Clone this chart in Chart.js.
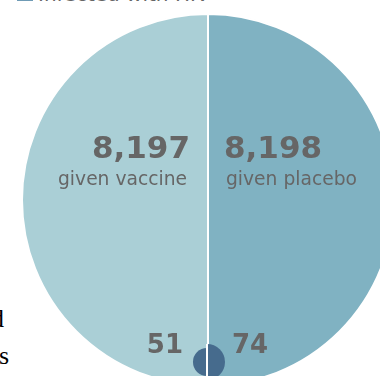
<!DOCTYPE html>
<html><head><meta charset="utf-8">
<script src="https://cdn.jsdelivr.net/npm/chart.js@4/dist/chart.umd.min.js"></script>
<style>
html,body{margin:0;padding:0;width:380px;height:376px;overflow:hidden;background:#fff;}
body{position:relative;}
#bigWrap{position:absolute;left:21px;top:13px;width:374px;height:374px;}
#smallWrap{position:absolute;left:189px;top:344px;width:36px;height:36px;}
#legend{position:absolute;left:17px;top:-16px;font:20px "DejaVu Sans",sans-serif;color:#666;white-space:nowrap;line-height:20px;}
#legend span.sw{display:inline-block;width:16px;height:16px;background:#6f9bb5;vertical-align:0px;margin-right:5px;}
.side{position:absolute;font:26px "Liberation Serif",serif;color:#000;}
</style></head>
<body>
<div id="legend"><span class="sw"></span><span id="legendText"></span></div>
<div class="side" style="left:-9px;top:304px;">d</div>
<div class="side" style="left:-1px;top:341px;">s</div>
<div id="bigWrap"><canvas id="big" width="374" height="374"></canvas></div>
<div id="smallWrap"><canvas id="small" width="36" height="36"></canvas></div>
<script>
// Data
const groups = ['given placebo', 'given vaccine'];   // right half, left half
const totals = [8198, 8197];
const infected = [74, 51];
const legendLabel = 'Infected with HIV';

document.getElementById('legendText').textContent = legendLabel;

const fmt = n => n.toLocaleString('en-US');

const labelPlugin = {
  id: 'labels',
  afterDatasetsDraw(chart) {
    const meta = chart.getDatasetMeta(0);
    const arc = meta.data[0];
    const cx = arc.x, cy = arc.y;
    const ctx = chart.ctx;
    ctx.save();
    ctx.fillStyle = '#666666';
    ctx.textBaseline = 'alphabetic';
    // right half (placebo)
    ctx.textAlign = 'left';
    ctx.font = 'bold 31px "DejaVu Sans", sans-serif';
    ctx.fillText(fmt(totals[0]), cx + 16, cy - 42);
    ctx.font = '18.7px "DejaVu Sans", sans-serif';
    ctx.fillText(groups[0], cx + 18, cy - 15);
    ctx.font = 'bold 26px "DejaVu Sans", sans-serif';
    ctx.fillText(fmt(infected[0]), cx + 24, cy + 153);
    // left half (vaccine)
    ctx.textAlign = 'right';
    ctx.font = 'bold 31px "DejaVu Sans", sans-serif';
    ctx.fillText(fmt(totals[1]), cx - 18, cy - 42);
    ctx.font = '18.7px "DejaVu Sans", sans-serif';
    ctx.fillText(groups[1], cx - 21, cy - 15);
    ctx.font = 'bold 26px "DejaVu Sans", sans-serif';
    ctx.fillText(fmt(infected[1]), cx - 25, cy + 153);
    ctx.restore();
  }
};

new Chart(document.getElementById('big'), {
  type: 'pie',
  data: {
    labels: groups,
    datasets: [{
      data: totals,
      backgroundColor: ['#80b2c2', '#aacfd6'],
      borderColor: '#ffffff',
      borderWidth: 2
    }]
  },
  options: {
    responsive: false,
    animation: false,
    layout: { padding: 0 },
    plugins: { legend: { display: false }, tooltip: { enabled: false } }
  },
  plugins: [labelPlugin]
});

const dividerPlugin = {
  id: 'divider',
  afterDatasetsDraw(chart) {
    const s = chart.scales.r;
    const ctx = chart.ctx;
    ctx.save();
    ctx.strokeStyle = '#ffffff';
    ctx.lineWidth = 2;
    ctx.beginPath();
    ctx.moveTo(s.xCenter, 0);
    ctx.lineTo(s.xCenter, chart.height);
    ctx.stroke();
    ctx.restore();
  }
};

new Chart(document.getElementById('small'), {
  type: 'polarArea',
  data: {
    labels: groups,
    datasets: [{
      data: infected,
      backgroundColor: ['#466b8d', '#466b8d'],
      borderWidth: 0
    }]
  },
  options: {
    responsive: false,
    animation: false,
    layout: { padding: 0 },
    scales: { r: { display: false, min: -30, max: 74 } },
    plugins: { legend: { display: false }, tooltip: { enabled: false } }
  },
  plugins: [dividerPlugin]
});
</script>
</body></html>
